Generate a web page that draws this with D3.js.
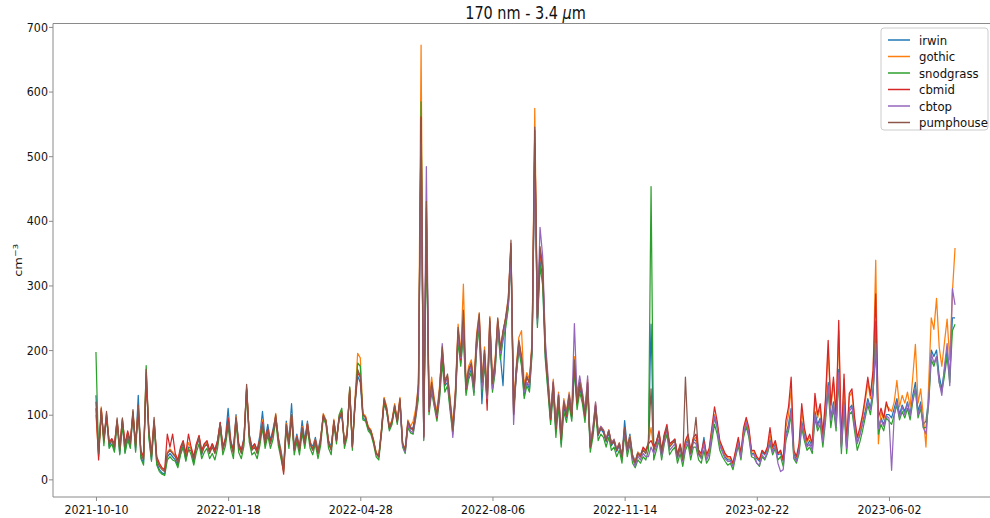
<!DOCTYPE html>
<html>
<head>
<meta charset="utf-8">
<script src="https://cdn.jsdelivr.net/npm/d3@7"></script>
<style>
  html, body { margin: 0; padding: 0; background: #ffffff; }
  svg { display: block; }
  text { font-family: "DejaVu Sans", "Liberation Sans", sans-serif; fill: #111; }
</style>
</head>
<body>
<div id="chart"></div>
<script>
// Daily-averaged concentration, 170 nm - 3.4 um, one value every 2 days per site.
const stepDays = 2;
const tickLabels = ["2021-10-10", "2022-01-18", "2022-04-28", "2022-08-06", "2022-11-14", "2023-02-22", "2023-06-02"];
const yTicks = [0, 100, 200, 300, 400, 500, 600, 700];

const irwinStart = "2021-10-10";
const irwin = [
  130,45,100,65,98,50,62,45,90,40,
  88,42,66,50,100,45,130,35,25,160,
  70,30,88,25,15,10,8,35,40,35,
  30,22,40,52,30,50,48,25,55,60,
  38,55,58,42,55,45,60,88,50,65,
  110,60,45,100,55,45,65,140,70,50,
  55,45,68,105,62,85,60,78,98,65,
  45,20,90,60,117,50,70,50,91,60,
  90,58,50,65,45,65,98,92,60,50,
  88,62,92,100,58,72,135,52,115,160,
  150,95,92,78,72,58,40,35,72,118,
  105,78,88,110,88,120,55,45,85,78,
  80,105,130,540,70,400,112,145,118,98,
  130,190,145,150,110,80,125,220,180,230,
  135,160,170,135,205,240,117,185,118,235,
  140,170,240,190,145,240,270,355,110,160,
  205,180,130,150,140,200,510,240,340,310,
  190,140,90,140,75,120,55,112,95,122,
  95,175,115,140,125,95,140,48,72,110,
  68,78,72,58,72,52,58,43,52,33,
  91,50,70,38,28,42,38,48,42,58,
  240,50,58,72,42,68,75,55,58,62,
  38,52,33,55,62,42,62,60,42,38,
  65,35,42,70,95,80,55,45,35,30,
  30,22,40,58,36,72,90,72,40,40,
  32,28,42,38,45,62,45,55,38,40,
  28,70,85,110,40,30,48,90,70,52,
  60,50,105,85,95,62,100,150,95,120,
  85,170,50,120,50,110,115,85,58,70,
  88,105,125,110,140,200,80,95,85,100,
  100,95,110,125,100,115,105,120,100,130,
  150,105,120,85,90,125,200,190,200,160,
  140,170,200,160,250,250
];

const gothicStart = "2021-10-10";
const gothic = [
  100,38,112,58,102,57,58,52,92,47,
  92,52,72,57,105,52,112,42,32,165,
  72,37,92,32,22,17,14,42,47,42,
  37,27,47,58,37,57,47,32,52,67,
  42,52,57,42,52,42,57,87,47,62,
  93,57,42,98,52,42,62,143,67,47,
  52,42,62,92,57,77,57,72,102,62,
  42,17,87,57,102,47,67,47,82,57,
  87,57,47,62,42,62,102,92,57,47,
  93,62,98,106,57,72,142,52,125,195,
  188,102,98,82,77,62,42,37,77,127,
  112,82,92,117,92,127,57,47,92,82,
  90,110,148,672,68,405,120,158,125,105,
  145,200,155,160,125,85,140,240,195,302,
  150,175,185,150,225,258,152,205,135,252,
  155,185,248,205,225,252,282,360,115,175,
  220,230,145,165,155,215,574,255,350,325,
  205,155,100,155,85,135,70,125,105,135,
  105,190,125,155,135,105,155,55,78,118,
  72,82,77,62,77,57,62,47,57,37,
  78,47,67,37,27,42,37,47,42,57,
  80,47,57,72,42,67,80,52,57,62,
  37,52,32,58,67,42,62,65,42,37,
  58,35,45,75,100,85,58,48,38,33,
  33,24,43,62,38,76,92,76,43,42,
  34,30,44,40,48,70,48,58,40,43,
  30,80,100,140,44,34,52,105,76,57,
  66,53,125,95,110,67,118,200,110,150,
  95,230,53,155,53,128,135,92,62,76,
  95,120,150,125,165,339,55,105,92,115,
  110,105,120,153,112,130,118,135,112,158,
  209,118,140,98,50,145,250,232,280,205,
  175,212,248,185,290,358
];

const snodgrassStart = "2021-10-10";
const snodgrass = [
  197,35,105,52,100,48,55,42,88,38,
  85,40,62,48,104,42,110,32,22,176,
  65,28,85,22,12,8,6,30,35,30,
  28,18,38,50,28,48,38,22,42,55,
  32,42,48,32,40,30,48,78,38,52,
  82,48,32,88,42,32,52,138,58,38,
  42,32,52,80,48,68,48,62,92,52,
  32,12,78,48,95,38,58,38,72,48,
  78,48,38,55,32,52,95,85,48,38,
  85,55,100,110,48,65,143,45,115,180,
  175,92,90,75,70,55,35,30,70,118,
  105,75,85,110,85,120,50,40,80,72,
  70,95,125,584,60,380,100,135,112,90,
  125,180,135,145,105,70,120,215,175,225,
  130,155,165,130,200,235,135,180,120,230,
  135,165,235,185,215,235,265,345,105,160,
  200,175,125,145,135,195,520,235,330,300,
  185,135,85,135,65,115,50,105,88,115,
  90,170,108,135,118,88,135,42,65,105,
  60,70,65,50,65,45,50,35,45,25,
  70,35,55,25,18,30,25,35,30,45,
  453,30,45,60,30,55,70,38,45,50,
  25,40,20,45,55,30,50,50,30,25,
  45,25,32,60,85,70,45,35,28,22,
  25,15,35,52,30,65,82,65,35,33,
  25,20,35,30,40,55,38,48,30,35,
  20,60,75,100,32,25,40,80,60,45,
  50,40,95,75,85,50,90,140,80,110,
  75,160,40,110,40,100,105,75,45,58,
  75,95,115,100,130,245,70,85,75,95,
  90,85,100,115,92,105,95,110,92,120,
  140,95,110,80,80,115,185,175,190,150,
  135,160,190,150,230,240
];

const cbmidStart = "2021-10-10";
const cbmid = [
  110,30,108,62,96,58,63,55,90,50,
  93,55,75,60,100,55,105,45,35,150,
  78,38,90,35,25,18,15,70,50,70,
  40,30,50,60,40,70,50,35,55,68,
  45,55,60,45,55,45,60,88,50,62,
  95,58,45,94,55,45,62,140,68,48,
  55,45,62,88,58,78,58,74,96,62,
  38,8,82,55,98,48,66,48,80,58,
  86,56,46,61,40,61,98,90,56,46,
  90,60,95,102,55,70,138,50,118,165,
  158,100,95,80,75,60,40,35,75,122,
  108,80,90,113,90,123,55,45,88,80,
  78,102,140,561,66,420,105,145,118,95,
  135,198,148,158,115,78,130,230,185,245,
  140,168,178,140,215,250,145,195,107,245,
  145,178,245,198,228,248,275,365,102,168,
  212,188,138,158,148,208,540,248,355,325,
  198,148,93,148,78,128,62,118,98,128,
  98,182,118,148,128,98,148,50,74,113,
  70,80,75,60,75,55,60,45,55,35,
  78,45,64,35,25,40,35,50,45,55,
  60,50,58,75,45,70,85,55,58,62,
  38,55,35,60,70,45,65,70,45,40,
  60,38,48,80,112,90,60,50,40,35,
  35,25,45,65,40,80,96,80,45,45,
  35,30,45,40,50,80,50,60,40,45,
  30,91,112,158,45,35,55,117,80,60,
  70,55,133,100,117,70,125,215,115,158,
  100,246,55,163,55,133,140,96,65,80,
  100,127,158,130,169,287,95,110,95,120,
  105
];

const cbtopStart = "2022-05-28";
const cbtop = [
  115,52,42,85,75,
  72,98,135,520,62,484,108,140,115,98,
  138,210,150,155,118,65,132,225,188,240,
  142,165,175,138,210,245,140,190,125,240,
  140,175,240,195,220,245,270,350,85,165,
  210,185,135,150,145,205,500,245,390,345,
  215,160,98,152,82,132,68,122,102,132,
  105,241,130,160,135,105,160,55,80,120,
  72,82,76,62,76,56,62,46,56,36,
  75,42,62,32,20,36,30,40,35,35,
  50,40,50,62,35,58,78,45,50,55,
  32,48,28,50,60,38,58,55,38,32,
  55,30,40,72,98,82,52,42,32,28,
  28,20,38,56,34,70,88,70,38,38,
  25,22,38,32,42,58,42,50,25,12,
  15,65,80,105,35,28,45,85,65,50,
  55,45,100,80,92,58,98,145,92,115,
  82,165,48,115,48,105,112,82,55,68,
  85,100,120,108,135,210,78,92,82,98,
  95,14,100,120,95,112,100,118,98,125,
  140,100,115,80,70,120,195,180,190,150,
  130,175,210,145,295,270
];

const pumphouseStart = "2021-10-10";
const pumphouse = [
  120,40,110,60,105,55,60,50,95,45,
  95,50,70,55,108,50,115,40,30,170,
  75,35,96,30,20,15,12,40,45,40,
  35,25,45,57,35,45,45,30,50,65,
  40,50,55,40,50,40,55,85,45,60,
  88,55,40,96,50,40,60,147,65,45,
  50,40,60,85,55,75,55,70,100,60,
  40,15,85,55,100,45,65,45,80,55,
  85,55,45,60,40,60,100,90,55,45,
  91,60,96,104,55,70,140,50,120,170,
  160,100,96,80,75,60,40,35,75,125,
  110,80,90,115,90,125,55,45,90,80,
  75,100,148,555,65,430,110,150,120,100,
  140,205,150,163,120,75,135,235,190,262,
  143,170,180,143,220,256,150,200,130,250,
  148,180,250,200,230,250,280,370,100,170,
  215,190,140,160,150,210,545,250,360,330,
  200,150,95,150,80,130,65,120,100,130,
  100,185,120,150,130,100,150,50,75,115,
  70,80,75,60,75,55,60,45,55,35,
  80,45,65,35,25,40,35,45,40,55,
  140,45,55,70,40,65,80,50,55,60,
  35,50,30,158,65,40,60,96,40,35
];

const seriesNames = ["irwin", "gothic", "snodgrass", "cbmid", "cbtop", "pumphouse"];
const seriesColors = ["#1f77b4", "#ff7f0e", "#2ca02c", "#d62728", "#9467bd", "#8c564b"];
const seriesStarts = [irwinStart, gothicStart, snodgrassStart, cbmidStart, cbtopStart, pumphouseStart];
const seriesValues = [irwin, gothic, snodgrass, cbmid, cbtop, pumphouse];

const parse = d3.utcParse("%Y-%m-%d");
const fmt = d3.utcFormat("%Y-%m-%d");

const series = seriesNames.map((name, k) => {
  const t0 = parse(seriesStarts[k]);
  return {
    name,
    color: seriesColors[k],
    points: seriesValues[k].map((v, i) => ({ date: d3.utcDay.offset(t0, i * stepDays), value: v }))
  };
});

const W = 990, H = 518;
const plot = { left: 53, right: 998, top: 23.5, bottom: 497 };
const textSquash = 0.85;

const allPoints = series.flatMap(s => s.points);
const [tMin, tMax] = d3.extent(allPoints, d => d.date);
const tPad = (tMax - tMin) * 0.05;
const x = d3.scaleUtc()
  .domain([new Date(+tMin - tPad), new Date(+tMax + tPad)])
  .range([plot.left, plot.right]);

const [vMin, vMax] = d3.extent(allPoints, d => d.value);
const vPad = (vMax - vMin) * 0.05;
const y = d3.scaleLinear()
  .domain([vMin - vPad, vMax + vPad])
  .range([plot.bottom, plot.top]);

const svg = d3.select("#chart").append("svg")
  .attr("width", W).attr("height", H)
  .attr("viewBox", `0 0 ${W} ${H}`);

svg.append("defs").append("clipPath").attr("id", "plotclip")
  .append("rect")
  .attr("x", plot.left).attr("y", plot.top)
  .attr("width", plot.right - plot.left).attr("height", plot.bottom - plot.top);

// Lines, drawn in legend order so the last site sits on top
const line = d3.line()
  .defined(d => d.value != null)
  .x(d => x(d.date))
  .y(d => y(d.value));

const lines = svg.append("g").attr("clip-path", "url(#plotclip)");
series.forEach(s => {
  lines.append("path")
    .datum(s.points)
    .attr("fill", "none")
    .attr("stroke", s.color)
    .attr("stroke-width", 1.25)
    .attr("stroke-linejoin", "round")
    .attr("d", line);
});

// Axes
const axisColor = "#8a8a8a";
const xAxis = d3.axisBottom(x)
  .tickValues(tickLabels.map(parse))
  .tickFormat(fmt)
  .tickSize(4).tickPadding(4);
const gx = svg.append("g").attr("transform", `translate(0,${plot.bottom})`).call(xAxis);
gx.select(".domain").remove();
gx.selectAll(".tick line").attr("stroke", axisColor);
gx.selectAll(".tick text")
  .attr("font-size", 13)
  .attr("fill", "#111")
  .attr("transform", `scale(${textSquash},1)`);

const yAxis = d3.axisLeft(y)
  .tickValues(yTicks)
  .tickFormat(d3.format("d"))
  .tickSize(4).tickPadding(2);
const gy = svg.append("g").attr("transform", `translate(${plot.left},0)`).call(yAxis);
gy.select(".domain").remove();
gy.selectAll(".tick line").attr("stroke", axisColor);
gy.selectAll(".tick text")
  .attr("font-size", 13)
  .attr("fill", "#111")
  .attr("transform", `scale(${textSquash},1)`);

// Frame
const frame = svg.append("g").attr("stroke", axisColor).attr("stroke-width", 1).attr("fill", "none");
frame.append("line").attr("x1", plot.left).attr("x2", plot.right).attr("y1", plot.top).attr("y2", plot.top);
frame.append("line").attr("x1", plot.left).attr("x2", plot.right).attr("y1", plot.bottom).attr("y2", plot.bottom);
frame.append("line").attr("x1", plot.left).attr("x2", plot.left).attr("y1", plot.top).attr("y2", plot.bottom);
frame.append("line").attr("x1", plot.right).attr("x2", plot.right).attr("y1", plot.top).attr("y2", plot.bottom);

// Title
const title = svg.append("g")
  .attr("transform", `translate(${(plot.left + plot.right) / 2},19) scale(${textSquash},1)`)
  .append("text")
  .attr("text-anchor", "middle")
  .attr("font-size", 17);
title.append("tspan").text("170 nm - 3.4 ");
title.append("tspan").attr("font-style", "italic").text("μ");
title.append("tspan").text("m");

// Y-axis label
const ylab = svg.append("g")
  .attr("transform", `translate(22,${(plot.top + plot.bottom) / 2}) rotate(-90) scale(1,${textSquash})`)
  .append("text")
  .attr("text-anchor", "middle")
  .attr("font-size", 13);
ylab.append("tspan").text("cm");
ylab.append("tspan").attr("font-size", 9).attr("dy", -5).text("−3");

// Legend
const legend = svg.append("g").attr("transform", "translate(881,28)");
legend.append("rect")
  .attr("width", 107).attr("height", 102)
  .attr("rx", 3)
  .attr("fill", "#ffffff").attr("fill-opacity", 0.8)
  .attr("stroke", "#cccccc").attr("stroke-width", 1);
series.forEach((s, k) => {
  const row = legend.append("g").attr("transform", `translate(0,${12 + k * 16.5})`);
  row.append("line")
    .attr("x1", 7).attr("x2", 29)
    .attr("stroke", s.color).attr("stroke-width", 1.5);
  row.append("g")
    .attr("transform", `translate(38,4.5) scale(0.9,1)`)
    .append("text")
    .attr("font-size", 13)
    .text(s.name);
});
</script>
</body>
